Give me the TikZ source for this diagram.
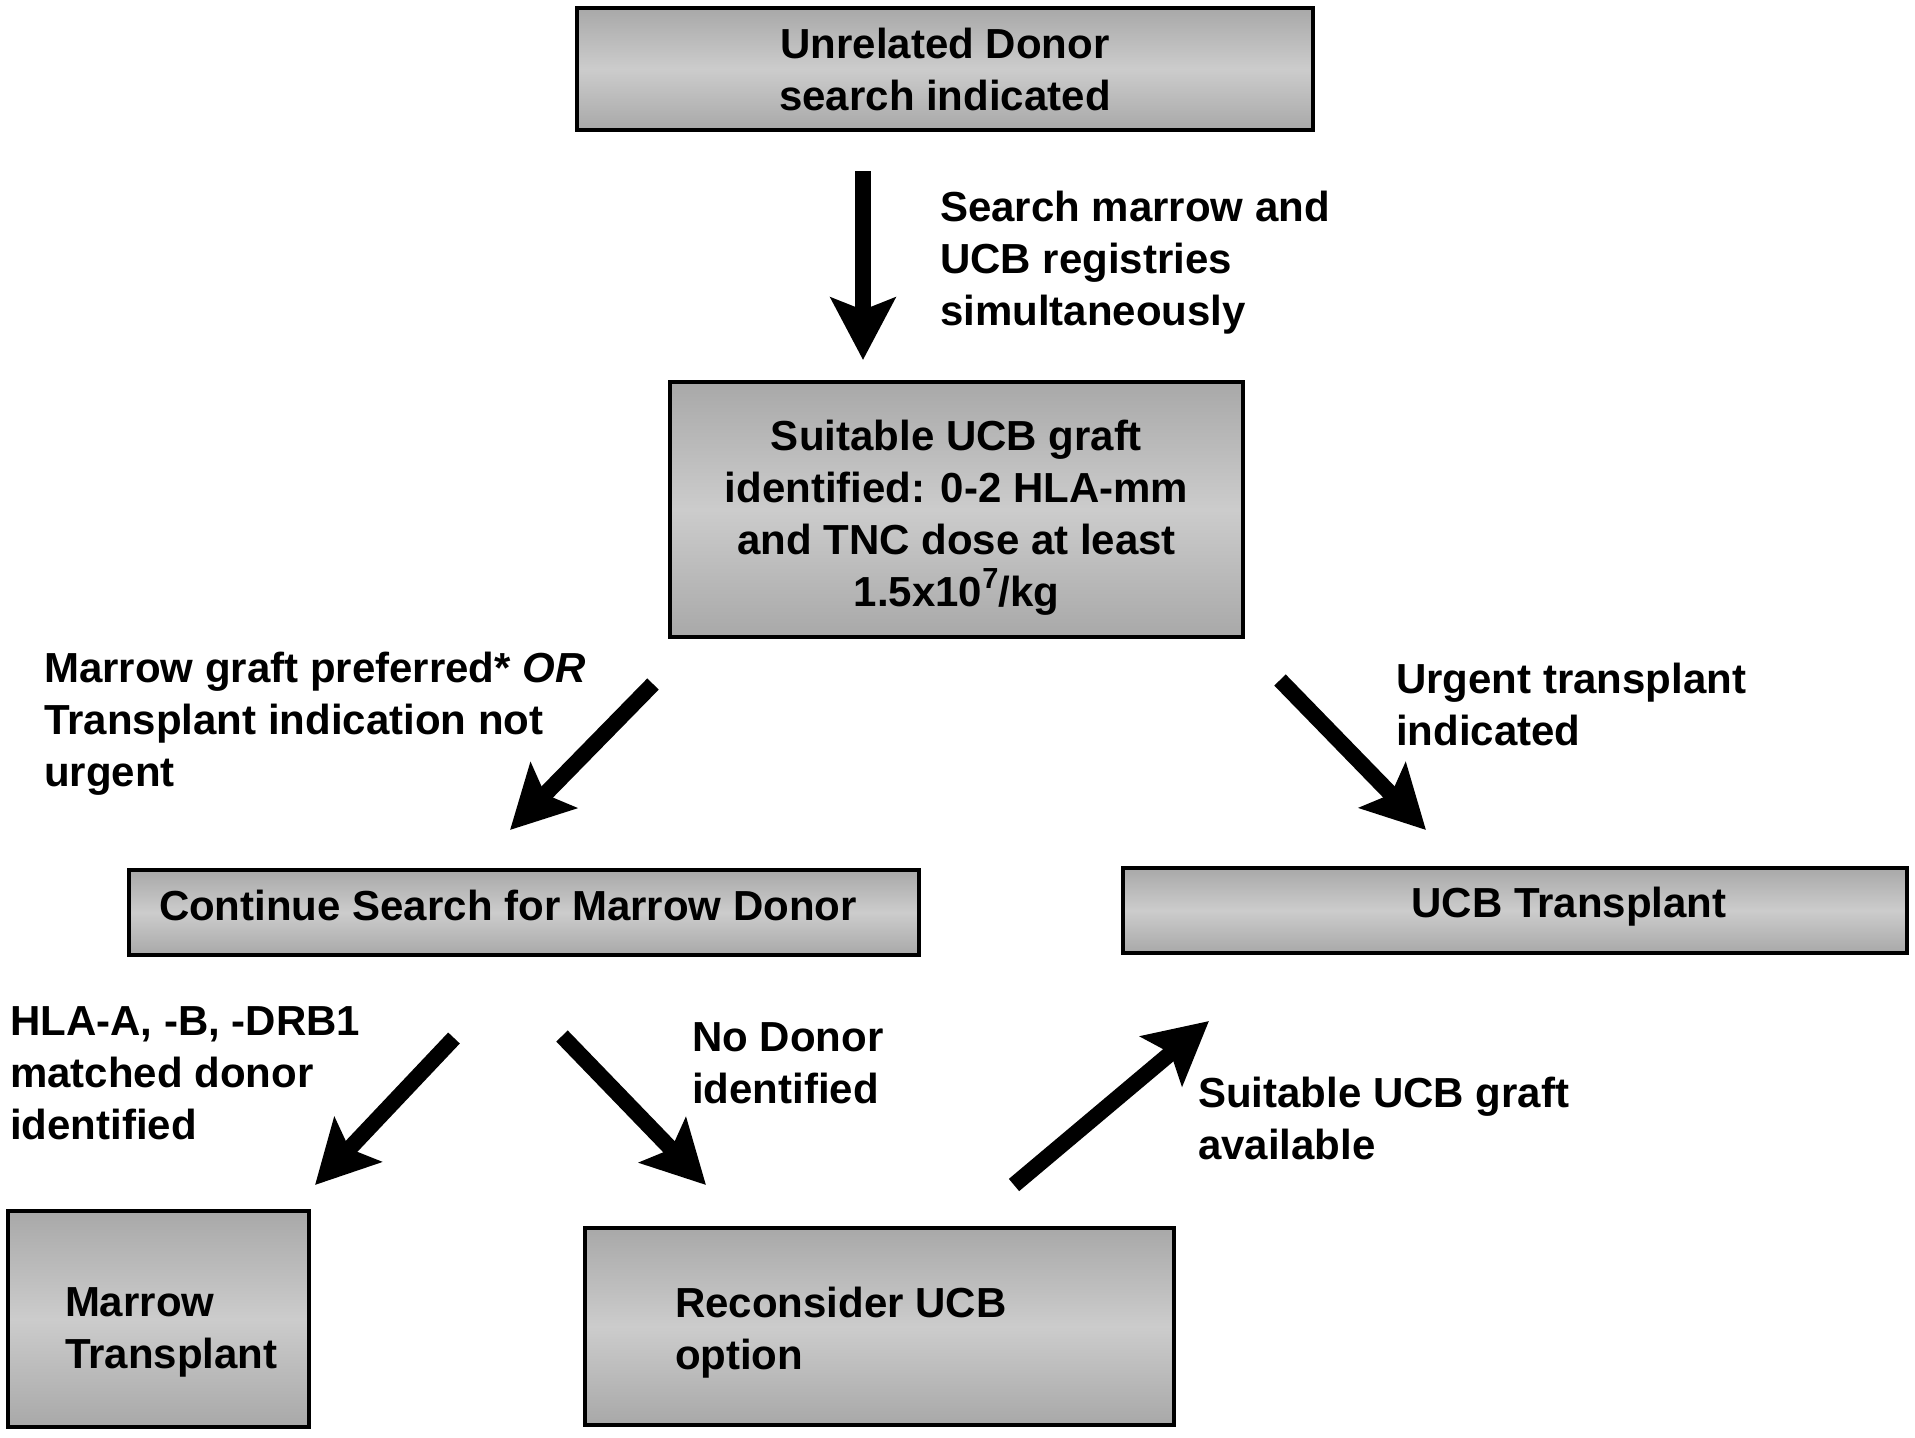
\documentclass[tikz,border=0pt]{standalone}
\usepackage{fontspec}
\setmainfont{Liberation Sans}
\usetikzlibrary{arrows.meta}
\definecolor{boxdark}{gray}{0.66}
\definecolor{boxlight}{gray}{0.80}
\newcommand{\shiftedtext}[4]{\raisebox{#1}[\height][\depth]{\parbox{#2}{#3#4}}}
\tikzset{
  box/.style={draw=black, line width=4pt, top color=boxdark, bottom color=boxdark, middle color=boxlight,
    inner sep=0pt, outer sep=0pt, font=\fontsize{42}{52}\selectfont\bfseries},
  lbl/.style={anchor=west, align=left, inner sep=0pt, font=\fontsize{42}{52}\selectfont\bfseries},
  bigarrow/.style={line width=16pt, -{Stealth[length=62pt, width=64pt, inset=12pt]}},
}
\begin{document}
\begin{tikzpicture}[x=1pt, y=-1pt]
\useasboundingbox (0,0) rectangle (1915,1438);
% boxes
\node[box, minimum width=736pt, minimum height=122pt, align=center] (top) at (945,69)
  {Unrelated Donor\\search indicated};
\node[box, minimum width=573pt, minimum height=255pt] (mid) at (956.5,509.5)
  {\shiftedtext{-8pt}{560pt}{\centering}{Suitable UCB graft\\identified: 0-2 HLA-mm\\and TNC dose at least\\1.5x10\raisebox{0.42em}{\fontsize{29}{29}\selectfont 7}/kg}};
\node[box, minimum width=790pt, minimum height=85pt] (cont) at (524,912.5)
  {\shiftedtext{7pt}{730pt}{\raggedright}{Continue Search for Marrow Donor}};
\node[box, minimum width=784pt, minimum height=85pt] (ucb) at (1515,910.5)
  {\raisebox{4pt}[\height][\depth]{\hspace*{108pt}UCB Transplant}};
\node[box, minimum width=301pt, minimum height=216pt] (marrow) at (158.5,1319)
  {\shiftedtext{-13pt}{187pt}{\raggedright}{\mbox{Marrow}\\\mbox{Transplant}}};
\node[box, minimum width=589pt, minimum height=197pt] (recon) at (879.5,1326.5)
  {\shiftedtext{-6pt}{409pt}{\raggedright}{\mbox{Reconsider UCB}\\\mbox{option}}};
% labels
\node[lbl] (l1) at (940,263) {Search marrow and\\UCB registries\\simultaneously};
\node[lbl] (l2) at (44,724) {Marrow graft preferred* \textit{OR}\\Transplant indication not\\urgent};
\node[lbl] (l3) at (1396,704) {Urgent transplant\\indicated};
\node[lbl] (l4) at (10,1073) {HLA-A, -B, -DRB1\\matched donor\\identified};
\node[lbl] (l5) at (692,1063) {No Donor\\identified};
\node[lbl] (l6) at (1198,1118) {Suitable UCB graft\\available};
% arrow ends
\coordinate (a1s) at (863,171);  \coordinate (a1e) at (863,360);
\coordinate (a2s) at (653,684);  \coordinate (a2e) at (510,830);
\coordinate (a3s) at (1280,680); \coordinate (a3e) at (1426,830);
\coordinate (a4s) at (454,1038); \coordinate (a4e) at (315,1185);
\coordinate (a5s) at (562,1036); \coordinate (a5e) at (706,1185);
\coordinate (a6s) at (1014,1185); \coordinate (a6e) at (1209,1021);
% arrows
\draw[bigarrow] (a1s) -- (a1e);
\draw[bigarrow] (a2s) -- (a2e);
\draw[bigarrow] (a3s) -- (a3e);
\draw[bigarrow] (a4s) -- (a4e);
\draw[bigarrow] (a5s) -- (a5e);
\draw[bigarrow] (a6s) -- (a6e);
\end{tikzpicture}
\end{document}
